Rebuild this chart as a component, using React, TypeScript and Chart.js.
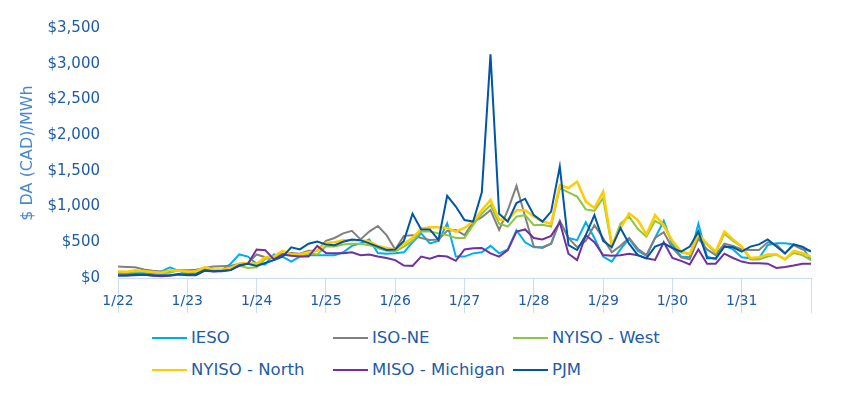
import React, { useEffect, useRef } from "react";
import { Chart, registerables } from "chart.js";

Chart.register(...registerables);

// x axis: one point every 3 hours from 1/22 00:00 to 2/1 00:00
const dayLabels = ["1/22", "1/23", "1/24", "1/25", "1/26", "1/27", "1/28", "1/29", "1/30", "1/31"];
const hoursPerPoint = 3;
const yTickValues = [0, 500, 1000, 1500, 2000, 2500, 3000, 3500];

const ieso = [60,60,65,70,60,90,150,100, 60,70,120,110,110,200,330,300, 200,190,330,300,230,300,320,320, 320,320,360,450,485,540,350,340, 345,360,500,625,485,520,765,300, 300,345,360,450,345,400,670,500, 430,430,480,800,560,530,780,560, 300,230,400,550,380,310,560,800, 470,300,290,760,300,260,450,400, 290,276,276,460,485,485,470,430, 250];
const isoNe = [160,155,150,120,100,90,85,110, 110,115,140,160,165,170,200,210, 330,290,300,340,350,340,380,380, 520,560,625,660,540,650,728,600, 400,590,600,560,532,540,660,672, 600,780,850,950,672,950,1290,860, 440,420,480,800,560,430,520,740, 560,360,450,560,410,320,560,640, 420,290,260,550,400,320,480,450, 400,392,392,500,470,345,460,400, 380];
const nyisoWest = [80,80,85,100,80,70,75,110, 80,90,130,110,115,130,170,140, 150,270,280,330,320,300,350,330, 440,440,470,480,480,460,420,380, 370,440,520,650,650,625,600,560, 560,742,900,1020,760,720,860,880, 740,745,720,1260,1200,1140,960,940, 1120,440,760,860,690,580,800,730, 500,360,330,600,470,350,620,520, 440,260,260,300,330,260,350,320, 250];
const nyisoNorth = [90,88,110,95,85,75,110,100, 90,95,150,120,120,140,200,210, 200,290,300,380,330,330,360,380, 490,500,530,530,530,510,450,420, 400,480,560,690,709,709,700,650, 700,790,950,1090,820,810,950,950, 860,790,760,1300,1260,1350,1070,980, 1210,470,700,905,812,610,880,740, 520,370,340,620,480,370,650,540, 440,280,290,330,330,260,380,350, 300];
const misoMichigan = [35,35,40,45,30,25,30,50, 40,40,100,90,95,110,170,200, 400,390,260,330,310,300,300,450, 350,345,345,360,320,330,300,280, 250,175,170,300,270,310,300,240, 400,415,420,345,300,390,650,680, 560,540,590,780,340,250,600,500, 322,310,320,340,320,275,252,500, 280,240,190,400,200,200,340,280, 230,205,205,200,140,155,175,200, 200];
const pjm = [35,35,50,45,40,40,40,55, 45,50,110,95,100,110,180,200, 170,210,250,300,430,400,480,510, 470,460,508,540,530,485,440,392, 400,520,900,680,680,532,1150,1000, 812,790,1200,3130,900,790,1050,1110, 880,790,930,1560,460,392,600,880, 520,430,700,480,320,275,439,485, 420,369,439,650,275,275,439,430, 369,439,470,540,440,345,470,440, 369];

const seriesNames = ["IESO", "ISO-NE", "NYISO - West", "NYISO - North", "MISO - Michigan", "PJM"];
const seriesValues = [ieso, isoNe, nyisoWest, nyisoNorth, misoMichigan, pjm];
const seriesColors = ["#00aeef", "#808080", "#8dc63f", "#ffcc00", "#7030a0", "#0055a5"];
const seriesWidths = [2, 2, 2, 2.5, 2, 2];

const TEXT = "#1d5ba6";
const TITLE = "#4a88cc";
const AXIS = "#c8ddf3";
const FONT = "'DejaVu Sans', sans-serif";

export default function App() {
  const ref = useRef<HTMLCanvasElement | null>(null);

  useEffect(() => {
    if (!ref.current) return;
    const n = seriesNames.length;
    const chart = new Chart(ref.current, {
      type: "line",
      data: {
        datasets: seriesNames.map((name, k) => ({
          label: name,
          data: seriesValues[k].map((v, i) => ({ x: i * hoursPerPoint, y: v })),
          borderColor: seriesColors[k],
          backgroundColor: seriesColors[k],
          borderWidth: seriesWidths[k],
          pointRadius: 0,
          tension: 0,
          order: n - 1 - k,
        })),
      },
      options: {
        animation: false,
        responsive: true,
        maintainAspectRatio: false,
        layout: { padding: { top: 28, right: 42, bottom: 0, left: 0 } },
        plugins: { legend: { display: false }, tooltip: { enabled: false } },
        scales: {
          x: {
            type: "linear",
            min: 0,
            max: 240,
            afterBuildTicks: (s: any) => {
              s.ticks = Array.from({ length: 11 }, (_, d) => ({ value: d * 24 }));
            },
            ticks: {
              autoSkip: false,
              maxRotation: 0,
              padding: -20,
              color: TEXT,
              font: { family: FONT, size: 14 },
              callback: (v: any) => dayLabels[Math.round(Number(v) / 24)] ?? "",
            },
            grid: { drawOnChartArea: false, drawTicks: true, tickLength: 35, color: AXIS, lineWidth: 1 },
            border: { display: true, color: AXIS, width: 1 },
            afterFit: (s: any) => { s.height = 42; },
          },
          y: {
            min: 0,
            max: 3500,
            afterBuildTicks: (s: any) => { s.ticks = yTickValues.map((v) => ({ value: v })); },
            ticks: {
              padding: 18,
              color: TEXT,
              font: { family: FONT, size: 15 },
              callback: (v: any) => "$" + Number(v).toLocaleString("en-US"),
            },
            grid: { display: false, drawTicks: false },
            border: { display: false },
            title: {
              display: true,
              text: "$ DA (CAD)/MWh",
              color: TITLE,
              font: { family: FONT, size: 16 },
              padding: { top: 18, bottom: 0 },
            },
            afterFit: (s: any) => { s.width = 118; },
          },
        },
      },
    });
    return () => chart.destroy();
  }, []);

  const cols = [152, 333, 513];
  const rows = [338, 370];

  return (
    <div style={{ position: "absolute", left: 0, top: 0, width: 853, height: 399, background: "#fff" }}>
      <div style={{ position: "absolute", left: 0, top: 0, width: 853, height: 320 }}>
        <canvas ref={ref} />
      </div>
      {seriesNames.map((name, k) => {
        const left = cols[k % 3];
        const top = rows[Math.floor(k / 3)];
        return (
          <div key={name} style={{ position: "absolute", left, top: top - 10, height: 20, display: "flex", alignItems: "center", whiteSpace: "nowrap" }}>
            <div style={{ width: 35, height: 2.5, background: seriesColors[k], marginRight: 4 }} />
            <span style={{ fontFamily: FONT, fontSize: 16.5, color: TEXT, lineHeight: "20px" }}>{name}</span>
          </div>
        );
      })}
    </div>
  );
}
